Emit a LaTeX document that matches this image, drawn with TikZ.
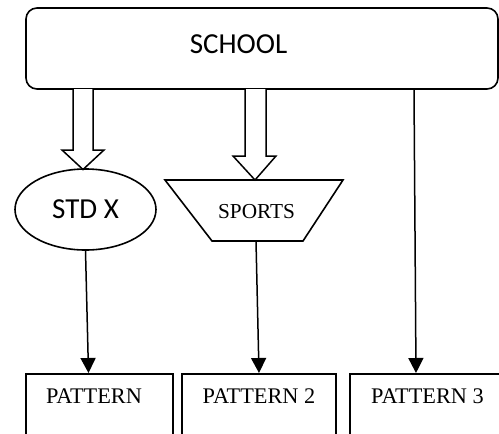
\documentclass[tikz,border=0pt]{standalone}
\usepackage{fontspec}
\setmainfont{Liberation Serif}
\newfontfamily\calib{Carlito}
\usetikzlibrary{shapes.geometric,arrows.meta,calc}
\begin{document}
\begin{tikzpicture}[x=1pt,y=-1pt,line join=miter]
\tikzset{
  bx/.style={draw, line width=1.6pt, inner sep=0pt},
  conn/.style={line width=1.5pt, -{Triangle[length=15pt,width=15pt]}},
  hollow/.style={draw, line width=1.5pt, fill=white},
  sansbig/.style={font=\calib\fontsize{29}{32}\selectfont},
  ptext/.style={font=\fontsize{22.3}{25}\selectfont, inner sep=0pt},
}
\useasboundingbox (0,0) rectangle (499,434);
\fill[white] (0,0) rectangle (499,434);
\clip (0,0) rectangle (499,434);

% top box
\node[bx, rounded corners=11pt, minimum width=472pt, minimum height=81pt] (school) at (262,48.5) {};
\node[sansbig, inner sep=0pt] (schooltext) at (238.5,44) {SCHOOL};

% ellipse
\node[bx, ellipse, minimum width=141pt, minimum height=81pt, sansbig] (std) at (85.5,209.5) {STD X};

% trapezium
\node[inner sep=0pt, font=\fontsize{21.3}{23}\selectfont] (sports) at (256.5,212) {SPORTS};
\coordinate (trTL) at (165,180);
\coordinate (trTR) at (343,180);
\coordinate (trBR) at (303,241);
\coordinate (trBL) at (212,241);
\coordinate (trB) at (256,241);
\draw[line width=1.6pt] (trTL) -- (trTR) -- (trBR) -- (trBL) -- cycle;

% bottom boxes
\node[bx, anchor=north, minimum width=147pt, minimum height=100pt] (p1) at (99.5,373) {};
\node[bx, anchor=north, minimum width=154pt, minimum height=100pt] (p2) at (259,373) {};
\node[bx, anchor=north, minimum width=155pt, minimum height=100pt] (p3) at (427.5,373) {};
\node[ptext] (t1) at (94,396) {PATTERN};
\node[ptext] (t2) at (259,396) {PATTERN 2};
\node[ptext] (t3) at (427.5,396) {PATTERN 3};

% hollow arrows
\draw[hollow] (73,89) -- (73,150) -- (62,150) -- (83,169.5) -- (104,150) -- (93,150) -- (93,89);
\draw[hollow] (245,89) -- (245,156) -- (233,156) -- (255,180) -- (276,156) -- (266,156) -- (266,89);

% connectors
\draw[conn] (std.south) -- ([xshift=-11pt]p1.north);
\draw[conn] (trB) -- (p2.north);
\draw[conn] ([xshift=152pt]school.south) -- ([xshift=-11.5pt]p3.north);
\end{tikzpicture}
\end{document}
